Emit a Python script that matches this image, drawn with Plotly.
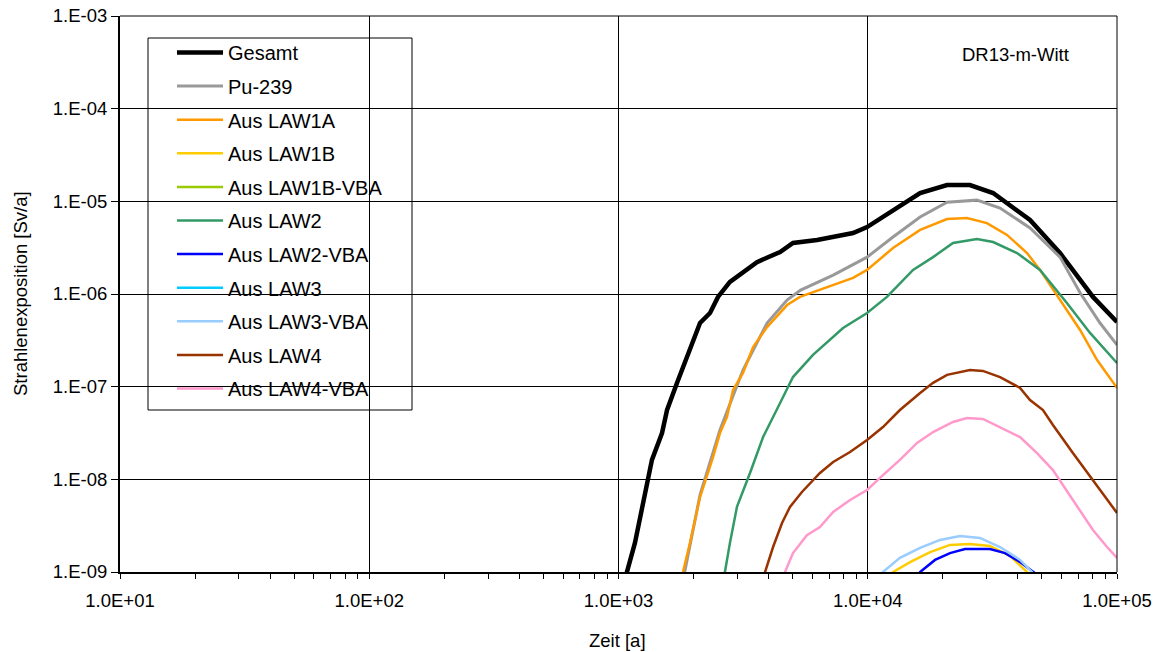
import plotly.graph_objects as go

# ---------------- data (time in years, exposure in Sv/a) ----------------
t_gesamt = [1000, 1081, 1164, 1254, 1362, 1495, 1566, 1718, 1884, 2124, 2329, 2507, 2800, 3594, 4450,
            5012, 6266, 8735, 9937, 12630, 16220, 20800, 25700, 31840, 44770, 59050, 80100, 100000]
v_gesamt = [4.0e-10, 1.0e-9, 2.06e-9, 5.56e-9, 1.62e-8, 3.16e-8, 5.6e-8, 1.1e-7, 2.09e-7, 4.86e-7, 6.24e-7, 9.3e-7,
            1.35e-6, 2.21e-6, 2.84e-6, 3.55e-6, 3.83e-6, 4.55e-6, 5.28e-6, 8.07e-6, 1.23e-5, 1.5e-5, 1.5e-5,
            1.23e-5, 6.3e-6, 2.77e-6, 9.3e-7, 5.0e-7]

t_pu239 = [1750, 1833, 2124, 2553, 3159, 3945, 4745, 5383, 7266, 9937, 12630, 16220, 20800, 27420, 33950,
           44770, 59050, 71100, 85500, 100000]
v_pu239 = [4.5e-10, 9.3e-10, 6.8e-9, 3.41e-8, 1.51e-7, 4.86e-7, 8.6e-7, 1.1e-6, 1.6e-6, 2.5e-6, 4.12e-6,
           6.78e-6, 9.8e-6, 1.03e-5, 8.47e-6, 5.15e-6, 2.5e-6, 1.03e-6, 4.86e-7, 2.82e-7]

t_law1a = [1750, 1815, 1936, 2124, 2395, 2553, 2724, 2881, 3159, 3467, 3945, 4745, 5346, 7266, 8735, 9937,
           12630, 16220, 20800, 25000, 30070, 36200, 43550, 49100, 59050, 71100, 83200, 100000]
v_law1a = [5.0e-10, 1.0e-9, 2.06e-9, 6.44e-9, 1.74e-8, 3.16e-8, 4.71e-8, 9.2e-8, 1.41e-7, 2.68e-7, 4.4e-7,
           7.6e-7, 9.3e-7, 1.25e-6, 1.49e-6, 1.82e-6, 3.13e-6, 4.91e-6, 6.44e-6, 6.6e-6, 5.83e-6, 4.34e-6,
           2.77e-6, 1.82e-6, 8.6e-7, 4.09e-7, 1.94e-7, 9.7e-8]

t_law1b = [12000, 12630, 14790, 17790, 21380, 25700, 30900, 37200, 43550, 46000]
v_law1b = [7.0e-10, 1.0e-9, 1.28e-9, 1.64e-9, 1.96e-9, 2.0e-9, 1.91e-9, 1.49e-9, 1.0e-9, 7.0e-10]

t_law1b_vba = [14000, 20000, 25000, 30000, 40000]
v_law1b_vba = [2.0e-10, 4.0e-10, 4.5e-10, 4.0e-10, 2.0e-10]

t_law2 = [2600, 2673, 2800, 2987, 3370, 3803, 4450, 5012, 6030, 7960, 9937, 11940, 15200, 18280, 21980,
          27420, 31840, 39720, 49100, 62950, 77960, 100000]
v_law2 = [5.0e-10, 1.0e-9, 2.06e-9, 5.04e-9, 1.17e-8, 2.86e-8, 6.67e-8, 1.27e-7, 2.2e-7, 4.3e-7, 6.24e-7,
          9.3e-7, 1.82e-6, 2.5e-6, 3.55e-6, 3.92e-6, 3.64e-6, 2.77e-6, 1.82e-6, 8.0e-7, 3.8e-7, 1.8e-7]

t_law2_vba = [15500, 16220, 18620, 21380, 24550, 30900, 35560, 40830, 46900, 49000]
v_law2_vba = [7.0e-10, 1.0e-9, 1.35e-9, 1.6e-9, 1.77e-9, 1.77e-9, 1.6e-9, 1.28e-9, 0.97e-9, 7.0e-10]

t_law3 = [14000, 20000, 25000, 30000, 40000]
v_law3 = [1.5e-10, 3.0e-10, 3.5e-10, 3.0e-10, 1.5e-10]

t_law3_vba = [11000, 11510, 13460, 16220, 19500, 23450, 28200, 33950, 40830, 45600, 48000]
v_law3_vba = [7.0e-10, 1.0e-9, 1.42e-9, 1.82e-9, 2.22e-9, 2.45e-9, 2.33e-9, 1.86e-9, 1.35e-9, 1.0e-9, 7.0e-10]

t_law4 = [3750, 3873, 4170, 4530, 4875, 5445, 6430, 7266, 8490, 9937, 11510, 13460, 16220, 18280, 20800,
          25700, 28970, 33950, 40830, 44770, 50470, 55340, 66530, 80100, 100000]
v_law4 = [5.0e-10, 1.0e-9, 1.86e-9, 3.38e-9, 5.04e-9, 7.3e-9, 1.17e-8, 1.54e-8, 1.97e-8, 2.66e-8, 3.67e-8,
          5.6e-8, 8.55e-8, 1.1e-7, 1.34e-7, 1.51e-7, 1.48e-7, 1.27e-7, 9.7e-8, 7.18e-8, 5.6e-8, 3.86e-8,
          1.92e-8, 9.8e-9, 4.34e-9]

t_law4_vba = [4550, 4656, 5012, 5700, 6430, 7266, 8490, 9937, 11510, 13460, 15770, 18280, 21980, 25000,
              28970, 33950, 40830, 47770, 55340, 66530, 80100, 91200, 100000]
v_law4_vba = [5.0e-10, 1.0e-9, 1.6e-9, 2.5e-9, 3.06e-9, 4.45e-9, 5.98e-9, 7.67e-9, 1.11e-8, 1.62e-8,
              2.47e-8, 3.24e-8, 4.16e-8, 4.59e-8, 4.48e-8, 3.67e-8, 2.86e-8, 1.92e-8, 1.26e-8, 5.98e-9,
              2.84e-9, 1.86e-9, 1.42e-9]

x_tickvals = [1e1, 1e2, 1e3, 1e4, 1e5]
x_ticktext = ["1.0E+01", "1.0E+02", "1.0E+03", "1.0E+04", "1.0E+05"]
y_tickvals = [1e-9, 1e-8, 1e-7, 1e-6, 1e-5, 1e-4, 1e-3]
y_ticktext = ["1.E-09", "1.E-08", "1.E-07", "1.E-06", "1.E-05", "1.E-04", "1.E-03"]

series = [
    ("Gesamt", t_gesamt, v_gesamt, "#000000", 4.5),
    ("Pu-239", t_pu239, v_pu239, "#999999", 3),
    ("Aus LAW1A", t_law1a, v_law1a, "#FF9900", 2.5),
    ("Aus LAW1B", t_law1b, v_law1b, "#FFCC00", 2.5),
    ("Aus LAW1B-VBA", t_law1b_vba, v_law1b_vba, "#99CC00", 2.5),
    ("Aus LAW2", t_law2, v_law2, "#339966", 2.5),
    ("Aus LAW2-VBA", t_law2_vba, v_law2_vba, "#0000FF", 2.5),
    ("Aus LAW3", t_law3, v_law3, "#00CCFF", 2.5),
    ("Aus LAW3-VBA", t_law3_vba, v_law3_vba, "#99CCFF", 2.5),
    ("Aus LAW4", t_law4, v_law4, "#993300", 2.5),
    ("Aus LAW4-VBA", t_law4_vba, v_law4_vba, "#FF99CC", 2.5),
]

FONT = "Liberation Sans, Arial, sans-serif"
L, R, T, B = 120, 44, 16, 80
PW, PH = 1161 - L - R, 652 - T - B


def px_x(px):
    return (px - L) / PW


def px_y(py):
    return (652 - B - py) / PH


fig = go.Figure()
for i, (name, t, v, color, w) in enumerate(series):
    fig.add_trace(go.Scatter(x=t, y=v, mode="lines", name=name, legendgroup=f"g{i}",
                             line=dict(color=color, width=w)))

fig.update_layout(
    width=1161, height=652,
    margin=dict(l=L, r=R, t=T, b=B, autoexpand=False),
    paper_bgcolor="white", plot_bgcolor="white",
    font=dict(family=FONT, size=18.5, color="black"),
    showlegend=True,
    legend=dict(x=px_x(172), y=px_y(33), xanchor="left", yanchor="top",
                bgcolor="rgba(0,0,0,0)", borderwidth=0,
                font=dict(family=FONT, size=20, color="black"),
                tracegroupgap=4.6, itemwidth=46, traceorder="grouped"),
    xaxis=dict(type="log", range=[1, 5], tickvals=x_tickvals, ticktext=x_ticktext,
               showgrid=True, gridcolor="black", gridwidth=1,
               showline=True, linecolor="black", linewidth=2,
               ticks="outside", ticklen=5, tickcolor="black", ticklabelstandoff=6,
               minor=dict(ticks="outside", ticklen=5, tickcolor="black", dtick="D1", showgrid=False),
               zeroline=False, tickfont=dict(size=18.5)),
    yaxis=dict(type="log", range=[-9, -3], tickvals=y_tickvals, ticktext=y_ticktext,
               showgrid=True, gridcolor="black", gridwidth=1,
               showline=True, linecolor="black", linewidth=2,
               ticks="outside", ticklen=7, tickcolor="black",
               zeroline=False, tickfont=dict(size=18.5)),
)

# legend frame
fig.add_shape(type="rect", xref="paper", yref="paper",
              x0=px_x(148), x1=px_x(412), y0=px_y(410), y1=px_y(38),
              line=dict(color="black", width=1), fillcolor="white", layer="below")
# top/right frame lines
fig.add_shape(type="line", xref="paper", yref="paper", x0=0, x1=1, y0=1, y1=1,
              line=dict(color="black", width=1))
fig.add_shape(type="line", xref="paper", yref="paper", x0=1, x1=1, y0=0, y1=1,
              line=dict(color="black", width=1))

# axis titles
fig.add_annotation(text="Zeit [a]", xref="paper", yref="paper", x=px_x(617), y=px_y(640),
                   xanchor="center", yanchor="middle", showarrow=False,
                   font=dict(family=FONT, size=18.5, color="black"))
fig.add_annotation(text="Strahlenexposition [Sv/a]", xref="paper", yref="paper", x=px_x(20), y=px_y(294),
                   xanchor="center", yanchor="middle", showarrow=False, textangle=-90,
                   font=dict(family=FONT, size=18.5, color="black"))

fig.add_annotation(text="DR13-m-Witt", xref="paper", yref="paper",
                   x=px_x(1071), y=px_y(54), xanchor="right", yanchor="middle",
                   showarrow=False, font=dict(family=FONT, size=18.5, color="black"))

fig.write_html("out.html", config={"displayModeBar": False},
               post_script="document.body.style.margin='0';document.body.style.overflow='hidden';")
